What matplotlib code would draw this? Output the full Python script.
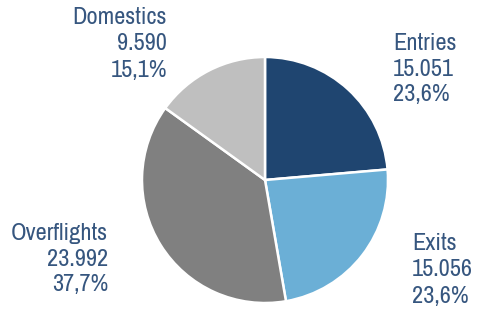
import matplotlib
matplotlib.use("Agg")
import matplotlib.pyplot as plt
from matplotlib import font_manager

# flight categories and counts
labels = ['Entries', 'Exits', 'Overflights', 'Domestics']
values = [15051, 15056, 23992, 9590]
colors = ['#1F4570', '#6BAFD6', '#808080', '#BFBFBF']

# label anchor (x, y of first line centre, alignment) in pixels
label_pos = [(393, 43, 'left'), (412, 244, 'left'), (108, 233, 'right'), (167, 18, 'right')]

txt_color = '#36567F'
W, H = 479, 309

# pick a narrow-ish font that is actually installed
installed = {f.name for f in font_manager.fontManager.ttflist}
narrow = [n for n in sorted(installed) if 'Narrow' in n or 'Condensed' in n]
if narrow:
    fam, fs = narrow[0], 17.5
else:
    fam, fs = 'Liberation Sans', 14.5
plt.rcParams['font.family'] = [fam, 'DejaVu Sans']

fig = plt.figure(figsize=(W / 100, H / 100), dpi=100)
ax = fig.add_axes([0, 0, 1, 1])
ax.set_xlim(0, W)
ax.set_ylim(0, H)
ax.set_aspect('equal')
ax.axis('off')

ax.pie(values, colors=colors, startangle=90, counterclock=False,
       center=(265, H - 180), radius=123,
       wedgeprops=dict(edgecolor='white', linewidth=1.8))
ax.set_xlim(0, W)
ax.set_ylim(0, H)

total = sum(values)
for lab, v, (x, y, ha) in zip(labels, values, label_pos):
    num = f'{v:,}'.replace(',', '.')
    pct = f'{100 * v / total:.1f}%'.replace('.', ',')
    for i, line in enumerate([lab, num, pct]):
        ax.text(x, H - (y + i * 26), line, ha=ha, va='center',
                fontsize=fs, fontweight='light', color=txt_color)

fig.savefig('out.png', dpi=100)
